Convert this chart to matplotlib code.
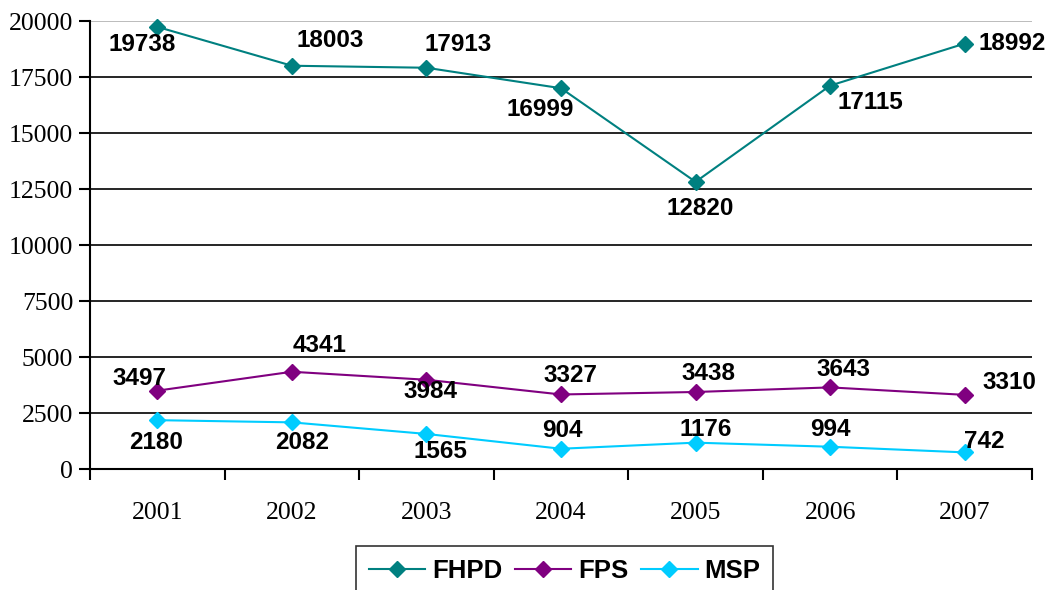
import numpy as np
import matplotlib.pyplot as plt
from matplotlib.ticker import FixedLocator

years = ['2001', '2002', '2003', '2004', '2005', '2006', '2007']
fhpd = [19738, 18003, 17913, 16999, 12820, 17115, 18992]
fps = [3497, 4341, 3984, 3327, 3438, 3643, 3310]
msp = [2180, 2082, 1565, 904, 1176, 994, 742]

# label offsets in pixels (dx, dy), dy positive = downwards
fhpd_off = [(-15, 18), (38, -25), (32, -23), (-21, 21), (5, 27), (40, 17), (47, 0)]
fps_off = [(-18, -12), (28, -26), (4, 12), (9, -19), (13, -18), (13, -18), (45, -12)]
msp_off = [(-1, 22), (10, 20), (14, 18), (1, -18), (10, -13), (0, -17), (20, -11)]

fig = plt.figure(figsize=(10.55, 5.9), dpi=100)
ax = fig.add_axes([90 / 1055, 1 - 469 / 590, (1032 - 90) / 1055, (469 - 21) / 590])

x = np.arange(len(years))
series = [(fhpd, '#008080', 'FHPD', fhpd_off),
          (fps, '#800080', 'FPS', fps_off),
          (msp, '#00CCFF', 'MSP', msp_off)]
for vals, col, name, offs in series:
    ax.plot(x, vals, color=col, lw=1.5, marker='D', ms=8.5, label=name, clip_on=False)
    for xi, v, (dx, dy) in zip(x, vals, offs):
        ax.annotate(str(v), (xi, v), xytext=(dx, -dy), textcoords='offset pixels',
                    ha='center', va='center', fontsize=17.5, fontweight='bold',
                    family='Liberation Sans')

ax.set_xlim(-0.5, 6.5)
ax.set_ylim(0, 20000)
ax.set_yticks(np.arange(0, 20001, 2500))
for yv in np.arange(2500, 20001, 2500):
    ax.axhline(yv, color='#b0b0b0' if yv == 20000 else 'black', lw=1.2, zorder=0)

ax.set_xticks(x)
ax.set_xticklabels(years)
ax.xaxis.set_minor_locator(FixedLocator(np.arange(-0.5, 7, 1)))
ax.tick_params(axis='x', which='major', length=0, pad=24)
ax.tick_params(axis='x', which='minor', length=8, width=1.5, direction='out')
ax.tick_params(axis='y', length=8, width=1.5, direction='out', pad=4)
for lab in ax.get_xticklabels() + ax.get_yticklabels():
    lab.set_family('Liberation Serif')
    lab.set_fontsize(18.5)

for s in ['top', 'right']:
    ax.spines[s].set_visible(False)
ax.spines['left'].set_linewidth(1.5)
ax.spines['bottom'].set_linewidth(1.5)

leg = fig.legend(loc='upper center', bbox_to_anchor=(0.535, 1 - 546 / 590), ncol=3,
                 frameon=True, fancybox=False, edgecolor='black', handlelength=2.2,
                 columnspacing=0.5, handletextpad=0.25, borderpad=0.5, borderaxespad=0,
                 prop={'family': 'Liberation Sans', 'weight': 'bold', 'size': 18.5})
leg.get_frame().set_linewidth(1.2)
for h in leg.legend_handles:
    h.set_markersize(8.5)

fig.savefig('out.png', dpi=100)
